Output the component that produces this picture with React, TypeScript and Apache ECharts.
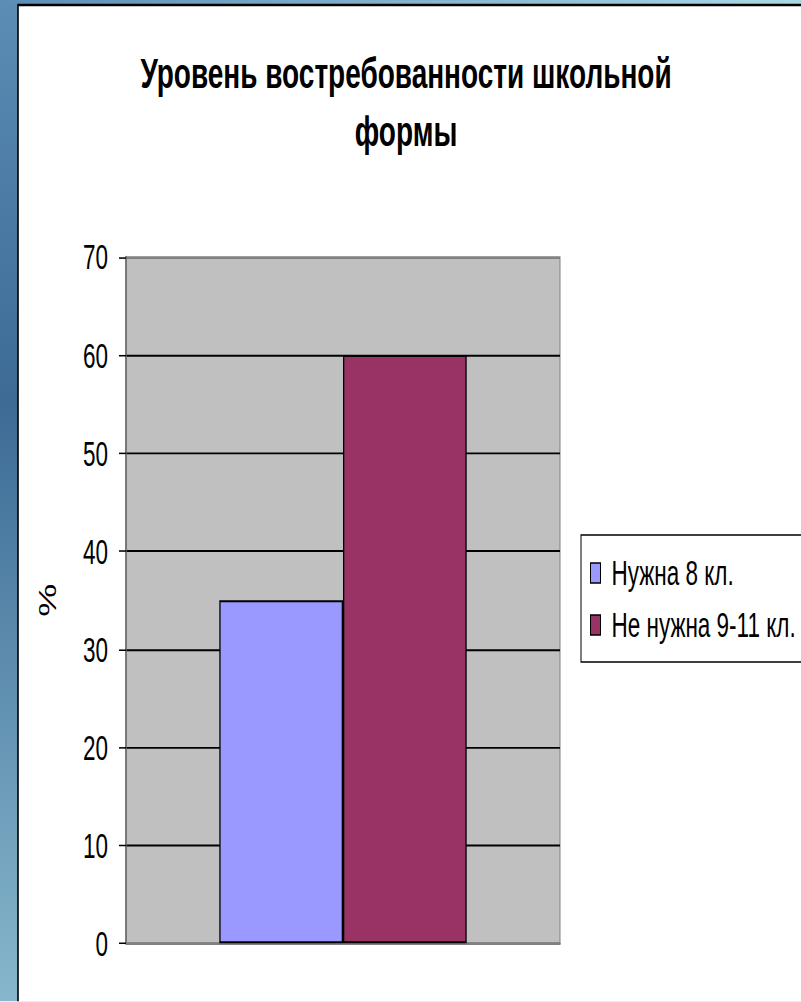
import React, { useEffect, useRef } from "react";
import * as echarts from "echarts";

const categories = [""];
const seriesNames = ["Нужна 8 кл.", "Не нужна 9-11 кл."];
const needed8 = [35];
const notNeeded9to11 = [60];
const titleText = "Уровень востребованности школьной\nформы";
const yTicks = { min: 0, max: 70, interval: 10 };

const FONT = "'Liberation Sans', Arial, sans-serif";
// The reference picture is a vertically stretched slide: draw at a reduced height and stretch with CSS.
const W = 801;
const H_OUT = 1002;
const K = 1.55;
const H = H_OUT / K;
const sy = (v: number) => v / K;

export default function App() {
  const ref = useRef<HTMLDivElement>(null);
  useEffect(() => {
    document.body.style.margin = "0";
    const chart = echarts.init(ref.current!, null, { renderer: "svg" });
    chart.setOption({
      animation: false,
      backgroundColor: "#ffffff",
      graphic: [
        {
          type: "rect",
          z: -10,
          silent: true,
          shape: { x: 0, y: 0, width: W, height: H },
          style: {
            fill: new echarts.graphic.LinearGradient(0, 0, 0, 1, [
              { offset: 0, color: "#5b8db5" },
              { offset: 0.4, color: "#3d6b96" },
              { offset: 1, color: "#86b7cc" },
            ]),
          },
        },
        {
          type: "rect",
          z: -9,
          silent: true,
          shape: { x: 0, y: 0, width: W, height: sy(6) },
          style: {
            fill: new echarts.graphic.LinearGradient(0, 0, 1, 0, [
              { offset: 0, color: "#5b8db5" },
              { offset: 1, color: "#aad8e6" },
            ]),
          },
        },
        {
          type: "rect",
          z: -8,
          silent: true,
          shape: { x: 18, y: sy(5), width: 800, height: H + 20 },
          style: { fill: "#ffffff", stroke: "#000000", lineWidth: 1.6 },
        },
      ],
      title: {
        text: titleText,
        left: 406,
        textAlign: "center",
        top: sy(73) - sy(58) / 2,
        padding: 0,
        textStyle: {
          fontFamily: FONT,
          fontWeight: "bold",
          fontSize: 28,
          lineHeight: sy(58),
          color: "#000000",
        },
      },
      legend: {
        orient: "vertical",
        left: 581,
        top: sy(535),
        padding: [sy(573) - 12 - sy(535), 12, sy(662) - sy(625) - 12, 9],
        itemGap: sy(625) - sy(573) - 24,
        itemWidth: 10,
        itemHeight: sy(20),
        icon: "rect",
        backgroundColor: "#ffffff",
        borderColor: "#000000",
        borderWidth: 1,
        borderRadius: 0,
        itemStyle: { borderColor: "#000000", borderWidth: 1 },
        textStyle: {
          fontFamily: FONT,
          fontSize: 22.5,
          lineHeight: 24,
          color: "#000000",
          padding: [0, 0, 0, 6],
        },
        data: seriesNames,
      },
      grid: {
        left: 126,
        top: sy(257),
        right: W - 560,
        bottom: H - sy(944),
        show: true,
        backgroundColor: "#c0c0c0",
        borderColor: "#808080",
        borderWidth: 1,
        containLabel: false,
      },
      xAxis: {
        type: "category",
        data: categories,
        axisLine: { show: true, lineStyle: { color: "#808080", width: 1.5 } },
        axisTick: { show: false },
        axisLabel: { show: false },
      },
      yAxis: {
        type: "value",
        min: yTicks.min,
        max: yTicks.max,
        interval: yTicks.interval,
        name: "%",
        nameLocation: "middle",
        nameRotate: 90,
        nameGap: 66,
        nameTextStyle: { fontFamily: FONT, fontSize: 24, color: "#000000" },
        axisLine: { show: true, lineStyle: { color: "#666666", width: 1.5 } },
        axisTick: { show: true, inside: false, length: 7, lineStyle: { color: "#000000", width: 1 } },
        axisLabel: {
          fontFamily: FONT,
          fontSize: 22.5,
          color: "#000000",
          margin: 18,
        },
        splitLine: {
          show: true,
          lineStyle: {
            color: ["#808080", "#000000", "#000000", "#000000", "#000000", "#000000", "#000000", "#808080"],
            width: 1.2,
          },
        },
      },
      series: [
        {
          name: seriesNames[0],
          type: "bar",
          data: needed8,
          barGap: "0%",
          barCategoryGap: "43%",
          itemStyle: { color: "#9999ff", borderColor: "#000000", borderWidth: 1.3 },
        },
        {
          name: seriesNames[1],
          type: "bar",
          data: notNeeded9to11,
          barGap: "0%",
          barCategoryGap: "43%",
          itemStyle: { color: "#993366", borderColor: "#000000", borderWidth: 1.3 },
        },
      ],
    });
    return () => chart.dispose();
  }, []);
  return (
    <div style={{ width: W, height: H_OUT, overflow: "hidden", position: "relative" }}>
      <div
        ref={ref}
        style={{
          width: W,
          height: H,
          transform: `scaleY(${K})`,
          transformOrigin: "0 0",
        }}
      />
    </div>
  );
}
